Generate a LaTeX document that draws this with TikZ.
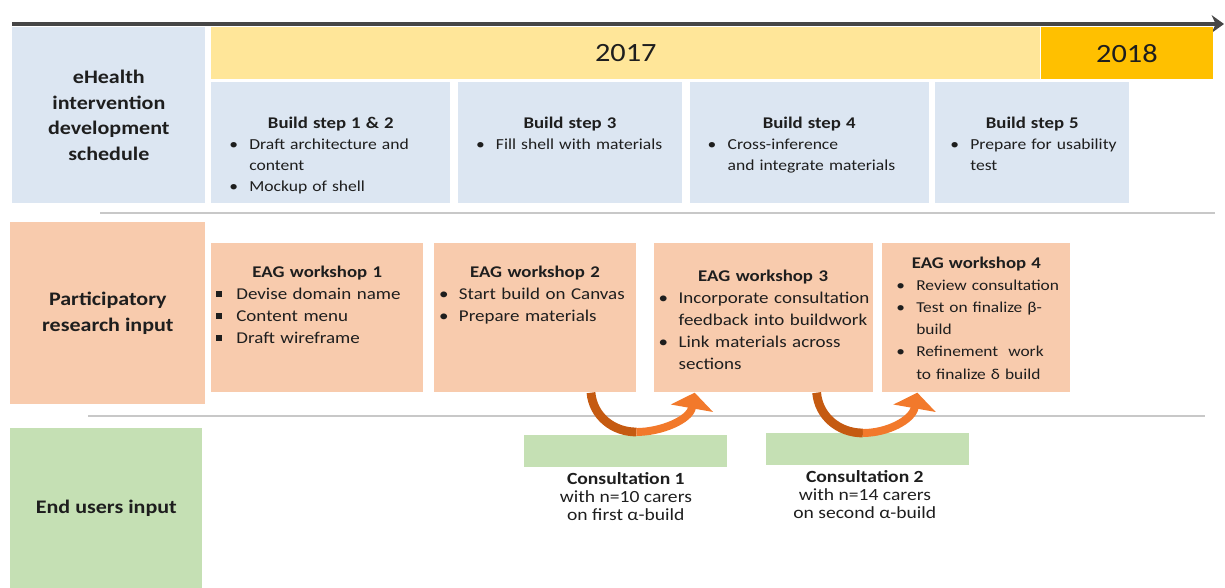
\documentclass[tikz,border=0pt]{standalone}
\usepackage{fontspec}
\setmainfont{Carlito}[FakeStretch=1.15]
\usepackage{tikz}
\usetikzlibrary{arrows.meta,positioning}

\definecolor{schedblue}{HTML}{DCE6F2}
\definecolor{yearpale}{HTML}{FFE699}
\definecolor{yeargold}{HTML}{FFC000}
\definecolor{peach}{HTML}{F8CBAD}
\definecolor{usergreen}{HTML}{C5E0B4}
\definecolor{loopdark}{HTML}{C55A11}
\definecolor{looplight}{HTML}{F2792B}
\definecolor{rulegray}{HTML}{C8C8C8}
\definecolor{axisgray}{HTML}{464646}
\definecolor{ink}{HTML}{1E1E1E}

% font sizes
\newcommand{\rowfont}{\fontsize{10.9}{14.7}\selectfont\bfseries}
\newcommand{\yearfont}{\fontsize{15}{18}\selectfont}
\newcommand{\stepfont}{\fontsize{8.7}{11.9}\selectfont}
\newcommand{\workfont}{\fontsize{9.4}{12.6}\selectfont}
\newcommand{\consultfont}{\fontsize{9.7}{10.5}\selectfont}
% box heading and bullet lines
\newcommand{\boxhead}[1]{\makebox[\linewidth][c]{\fontsize{9.3}{11}\selectfont\bfseries #1}}
\newcommand{\bl}[1]{\makebox[0.4cm][l]{\textbullet}\mbox{#1}}
\newcommand{\bq}[1]{\makebox[0.4cm][l]{\rule[0.18em]{0.34em}{0.34em}}\mbox{#1}}
\newcommand{\bi}[1]{\hspace*{0.4cm}\mbox{#1}}

\tikzset{
    %Define standard arrow tip
    >={Stealth[length=7pt,width=10pt]},
    %Define style for boxes
    rowlabel/.style={
           rectangle,
           anchor=north west,
           align=center,
           font=\rowfont,
           text=ink},
    yearbar/.style={
           rectangle,
           anchor=north west,
           minimum height=1.04cm,
           inner sep=0pt,
           font=\yearfont,
           text=ink},
    buildbox/.style={
           rectangle,
           fill=schedblue,
           inner xsep=0.36cm,
           inner ysep=0pt,
           text height=0.92cm,
           text depth=1.5cm,
           align=left,
           font=\stepfont,
           text=ink},
    workbox/.style={
           rectangle,
           fill=peach,
           inner xsep=0.1cm,
           inner ysep=0pt,
           text height=0.68cm,
           text depth=2.3cm,
           align=left,
           font=\workfont,
           text=ink},
    consultbar/.style={
           rectangle,
           anchor=north west,
           fill=usergreen,
           minimum width=4.06cm,
           minimum height=0.64cm},
    consulttext/.style={
           align=center,
           inner sep=0pt,
           font=\consultfont,
           text=ink},
    % Define arrow style
    timeline/.style={
           ->,
           line width=1.8pt,
           draw=axisgray},
    divider/.style={
           line width=1.1pt,
           draw=rulegray},
    loopdown/.style={
           line width=5pt,
           draw=loopdark},
    loopup/.style={
           -{Triangle[width=24pt,length=9pt]},
           line width=4.5pt,
           draw=looplight}
}

\begin{document}
\begin{tikzpicture}[x=0.02cm,y=-0.02cm]
\path[use as bounding box, fill=white] (0,0) rectangle (1225,588);
%time axis
\coordinate (axstart) at (12,24);
\coordinate (axend) at (1224,24);
\draw[timeline] (axstart) -- (axend);
%row labels
\node[rowlabel, fill=schedblue, minimum width=3.86cm, minimum height=3.52cm] (sched) at (12,27) {eHealth\\intervention\\development\\schedule};
\node[rowlabel, fill=peach, minimum width=3.9cm, minimum height=3.64cm] (partic) at (10,222) {Participatory\\research input};
\node[rowlabel, fill=usergreen, minimum width=3.84cm, minimum height=3.2cm] (endusers) at (10,428) {End users input};
%years
\node[yearbar, fill=yearpale, minimum width=16.58cm] (y2017) at (211,27) {2017};
\node[yearbar, fill=yeargold, minimum width=3.44cm, right=0pt of y2017] (y2018) {2018};
%build steps
\node[buildbox, anchor=north west, text width=4.06cm] (step12) at (211,82)
  {\boxhead{Build step 1 \& 2}\\ \bl{Draft architecture and}\\ \bi{content}\\ \bl{Mockup of shell}};
\node[buildbox, text width=3.76cm, right=0.14cm of step12] (step3)
  {\boxhead{Build step 3}\\ \bl{Fill shell with materials}};
\node[buildbox, text width=4.06cm, right=0.14cm of step3] (step4)
  {\boxhead{Build step 4}\\ \bl{Cross-inference}\\ \bi{and integrate materials}};
\node[buildbox, inner xsep=0.3cm, text width=3.28cm, right=0.12cm of step4] (step5)
  {\boxhead{Build step 5}\\ \bl{Prepare for usability}\\ \bi{test}};
%workshops
\node[workbox, anchor=north west, text width=4.04cm] (eag1) at (211,243)
  {\boxhead{EAG workshop 1}\\ \bq{Devise domain name}\\ \bq{Content menu}\\ \bq{Draft wireframe}};
\node[workbox, text width=3.84cm, right=0.2cm of eag1] (eag2)
  {\boxhead{EAG workshop 2}\\ \bl{Start build on Canvas}\\ \bl{Prepare materials}};
\node[workbox, text width=4.18cm, text height=0.76cm, text depth=2.22cm, right=0.34cm of eag2] (eag3)
  {\boxhead{EAG workshop 3}\\ \bl{Incorporate consultation}\\ \bi{feedback into buildwork}\\ \bl{Link materials across}\\ \bi{sections}};
\node[workbox, font=\fontsize{8.6}{12.6}\selectfont, inner xsep=0.28cm, text width=3.2cm, text height=0.5cm, text depth=2.48cm, right=0.18cm of eag3] (eag4)
  {\boxhead{EAG workshop 4}\\ \bl{Review consultation}\\ \bl{Test on finalize β-}\\ \bi{build}\\ \bl{Refinement \ work}\\ \bi{to finalize δ build}};
%consultations
\node[consultbar] (cons1) at (524,435) {};
\node[consultbar] (cons2) at (766,433) {};
\node[consulttext, below=0.08cm of cons1] (cons1txt) {\textbf{Consultation 1}\\with n=10 carers\\on first α-build};
\node[consulttext, below=0.08cm of cons2, xshift=-0.06cm] (cons2txt) {\textbf{Consultation 2}\\with n=14 carers\\on second α-build};
%dividers
\draw[divider] (100,213) -- (1215,213);
\draw[divider] (88,416) -- (1205,416);
%feedback loops
\coordinate (loop1a) at ([xshift=1.12cm]eag2.south);
\coordinate (loop1b) at ([xshift=0.21cm,yshift=0.06cm]cons1.north);
\coordinate (loop1c) at ([xshift=-1.37cm]eag3.south);
\draw[loopdown] (loop1a) to[out=-85,in=180] (loop1b);
\draw[loopup] (loop1b) .. controls +(0:0.5cm) and +(-100:0.55cm) .. (loop1c);
\coordinate (loop2a) at ([xshift=1.07cm]eag3.south);
\coordinate (loop2b) at ([xshift=-0.1cm]cons2.north);
\coordinate (loop2c) at ([xshift=-1.18cm]eag4.south);
\draw[loopdown] (loop2a) to[out=-85,in=180] (loop2b);
\draw[loopup] (loop2b) .. controls +(0:0.5cm) and +(-100:0.55cm) .. (loop2c);
\end{tikzpicture}
\end{document}
